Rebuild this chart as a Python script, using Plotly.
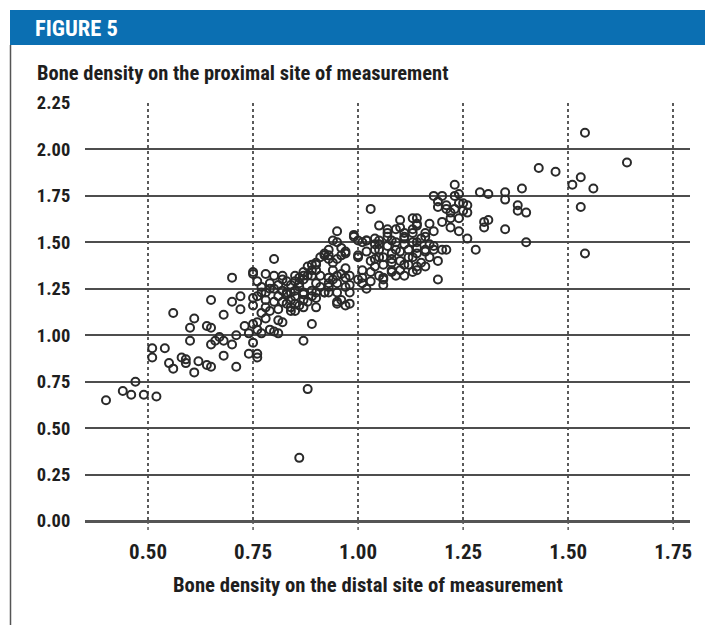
import plotly.graph_objects as go

# Bone density: distal site (x) vs proximal site (y)
distal = [
    0.40, 0.44, 0.46, 0.47, 0.49, 0.52, 0.51, 0.51, 0.54, 0.56,
    0.55, 0.56, 0.58, 0.59, 0.59, 0.62, 0.61, 0.64, 0.65, 0.60,
    0.60, 0.61, 0.64, 0.65, 0.65, 0.65, 0.66, 0.67, 0.68, 0.68,
    0.70, 0.68, 0.70, 0.71, 0.71, 0.70, 0.72, 0.72, 0.73, 0.74,
    0.74, 0.75, 0.76, 0.76, 0.75, 0.75, 0.75, 0.75, 0.75, 0.76,
    0.76, 0.77, 0.78, 0.78, 0.77, 0.76, 0.78, 0.80, 0.78, 0.79,
    0.81, 0.81, 0.80, 0.80, 0.79, 0.82, 0.82, 0.85, 0.87, 0.89,
    0.92, 0.93, 0.94, 0.90, 0.89, 0.87, 0.86, 0.84, 0.82, 0.81,
    0.83, 0.85, 0.87, 0.89, 0.91, 0.93, 0.94, 0.95, 0.92, 0.90,
    0.88, 0.86, 0.84, 0.85, 0.87, 0.90, 0.95, 0.82, 0.80, 0.89,
    0.87, 0.94, 0.83, 0.81, 0.83, 0.84, 0.84, 0.85, 0.82, 0.84,
    0.87, 0.89, 0.87, 0.86, 0.85, 0.86, 0.88, 0.89, 0.90, 0.91,
    0.93, 0.95, 0.96, 0.91, 0.93, 0.94, 0.96, 0.97, 0.97, 0.95,
    0.93, 0.92, 0.90, 0.90, 0.93, 0.95, 0.96, 0.95, 0.98, 0.98,
    0.97, 1.00, 1.00, 1.01, 1.03, 0.95, 0.95, 0.99, 1.01, 1.02,
    1.04, 1.05, 1.07, 1.10, 1.14, 1.14, 1.10, 1.13, 1.16, 1.18,
    1.18, 1.19, 1.00, 0.97, 0.92, 0.90, 0.88, 0.87, 0.97, 1.02,
    1.06, 1.09, 1.06, 1.01, 1.03, 1.05, 1.07, 1.09, 1.11, 1.12,
    1.14, 1.16, 1.17, 1.14, 1.11, 1.08, 1.10, 1.08, 1.13, 1.04,
    1.04, 1.02, 1.05, 1.08, 1.07, 1.11, 1.14, 1.07, 1.09, 1.11,
    1.13, 1.15, 1.18, 1.13, 1.11, 1.09, 1.05, 1.04, 1.02, 1.00,
    0.99, 0.97, 1.05, 1.06, 1.08, 1.10, 1.12, 1.13, 1.14, 1.16,
    1.17, 1.04, 1.06, 1.08, 1.10, 1.12, 1.15, 1.16, 1.03, 1.05,
    1.08, 1.11, 1.14, 0.98, 1.06, 1.03, 1.01, 0.98, 1.18, 1.19,
    1.20, 1.21, 1.23, 1.24, 1.24, 1.25, 1.25, 1.26, 1.22, 1.22,
    1.24, 1.20, 1.22, 1.24, 1.26, 1.20, 1.21, 1.28, 1.30, 1.30,
    1.29, 1.31, 1.23, 1.43, 1.35, 1.39, 1.35, 1.38, 1.38, 1.40,
    1.35, 1.40, 1.31, 1.47, 1.54, 1.64, 1.53, 1.51, 1.56, 1.53,
    1.54, 1.13, 1.14, 1.86, 0.86, 0.88, 1.21, 1.19, 1.23, 1.26,
    1.17, 1.16, 1.19, 0.96, 0.93, 0.77, 0.79, 0.76, 0.78, 0.80,
    0.81, 0.79, 0.83, 0.85, 0.77,
]
proximal = [
    0.65, 0.70, 0.68, 0.75, 0.68, 0.67, 0.93, 0.88, 0.93, 1.12,
    0.85, 0.82, 0.88, 0.87, 0.85, 0.86, 0.80, 0.84, 0.83, 0.97,
    1.04, 1.09, 1.05, 1.04, 0.95, 1.19, 0.97, 0.99, 0.97, 0.89,
    0.95, 1.11, 1.18, 1.00, 0.83, 1.31, 1.21, 1.14, 1.05, 1.01,
    0.90, 0.96, 0.90, 0.88, 1.34, 1.33, 1.20, 1.16, 1.06, 1.07,
    1.03, 1.01, 1.33, 1.23, 1.23, 1.21, 1.19, 1.18, 1.09, 1.03,
    1.01, 1.08, 1.41, 1.32, 1.28, 1.30, 1.32, 1.32, 1.34, 1.38,
    1.43, 1.41, 1.39, 1.35, 1.32, 1.30, 1.28, 1.27, 1.24, 1.21,
    1.22, 1.21, 1.22, 1.24, 1.26, 1.28, 1.30, 1.32, 1.23, 1.20,
    1.18, 1.16, 1.15, 1.13, 1.15, 1.15, 1.18, 1.07, 1.02, 1.06,
    0.97, 1.51, 1.29, 1.27, 1.23, 1.23, 1.19, 1.17, 1.18, 1.13,
    1.19, 1.21, 1.23, 1.26, 1.29, 1.31, 1.32, 1.35, 1.38, 1.42,
    1.43, 1.41, 1.43, 1.32, 1.31, 1.35, 1.33, 1.36, 1.31, 1.28,
    1.26, 1.23, 1.23, 1.28, 1.23, 1.23, 1.19, 1.17, 1.17, 1.23,
    1.26, 1.42, 1.30, 1.35, 1.68, 1.56, 1.50, 1.54, 1.50, 1.51,
    1.52, 1.59, 1.57, 1.62, 1.63, 1.59, 1.58, 1.57, 1.53, 1.56,
    1.46, 1.30, 1.43, 1.44, 1.44, 1.39, 1.37, 1.32, 1.16, 1.25,
    1.27, 1.32, 1.31, 1.31, 1.40, 1.42, 1.48, 1.46, 1.49, 1.42,
    1.47, 1.46, 1.49, 1.37, 1.38, 1.41, 1.35, 1.35, 1.34, 1.37,
    1.46, 1.45, 1.49, 1.51, 1.53, 1.53, 1.50, 1.55, 1.57, 1.55,
    1.55, 1.52, 1.48, 1.50, 1.52, 1.50, 1.51, 1.49, 1.51, 1.51,
    1.53, 1.45, 1.46, 1.42, 1.44, 1.45, 1.46, 1.42, 1.44, 1.45,
    1.42, 1.41, 1.38, 1.39, 1.40, 1.38, 1.39, 1.37, 1.34, 1.32,
    1.34, 1.32, 1.35, 1.32, 1.30, 1.29, 1.28, 1.27, 1.75, 1.72,
    1.75, 1.70, 1.75, 1.76, 1.71, 1.71, 1.67, 1.66, 1.66, 1.63,
    1.63, 1.61, 1.58, 1.56, 1.52, 1.46, 1.46, 1.46, 1.58, 1.61,
    1.77, 1.76, 1.81, 1.90, 1.77, 1.79, 1.73, 1.70, 1.67, 1.66,
    1.57, 1.50, 1.62, 1.88, 2.09, 1.93, 1.85, 1.81, 1.79, 1.69,
    1.44, 1.63, 1.60, 1.67, 0.34, 0.71, 1.68, 1.69, 1.68, 1.70,
    1.60, 1.55, 1.40, 1.47, 1.46, 1.26, 1.25, 1.29, 1.15, 1.25,
    1.14, 1.13, 1.17, 1.24, 1.12,
]

x_tick_values = [0.50, 0.75, 1.00, 1.25, 1.50, 1.75]
x_tick_labels = ["0.50", "0.75", "1.00", "1.25", "1.50", "1.75"]
y_tick_values = [0.00, 0.25, 0.50, 0.75, 1.00, 1.25, 1.50, 1.75, 2.00, 2.25]
y_tick_labels = ["0.00", "0.25", "0.50", "0.75", "1.00", "1.25", "1.50", "1.75", "2.00", "2.25"]

FONT = "Roboto Condensed, Liberation Sans Narrow, Arial Narrow, Roboto, sans-serif"
INK = "#1e1e1e"
MARK = "#2a2a2a"

fig = go.Figure(
    go.Scatter(
        x=distal,
        y=proximal,
        mode="markers",
        marker=dict(symbol="circle-open", size=8, color=MARK, line=dict(width=2, color=MARK)),
        hoverinfo="x+y",
        showlegend=False,
    )
)

W, H = 705, 625
L, R, T, B = 85, 15, 103, 104
pw, ph = W - L - R, H - T - B


def px_x(p):
    return (p - L) / pw


def px_y(p):
    return 1 - (p - T) / ph


# short dotted extensions of the vertical grid below the zero line
grid_tails = [
    dict(type="line", xref="x", yref="paper", x0=v, x1=v, y0=0, y1=px_y(530),
         line=dict(color="#5a5a5a", width=1.5, dash="dot"))
    for v in x_tick_values
]

fig.update_layout(
    width=W,
    height=H,
    autosize=False,
    margin=dict(l=L, r=R, t=T, b=B, pad=0),
    paper_bgcolor="white",
    plot_bgcolor="white",
    font=dict(family=FONT, color=INK),
    xaxis=dict(
        range=[0.35, 1.79],
        tickmode="array",
        tickvals=x_tick_values,
        ticktext=x_tick_labels,
        showgrid=True,
        gridcolor="#5a5a5a",
        griddash="dot",
        gridwidth=1.5,
        zeroline=False,
        showline=False,
        ticks="outside",
        ticklen=12,
        tickcolor="rgba(0,0,0,0)",
        tickfont=dict(family=FONT, size=21, color=INK, weight="bold"),
        fixedrange=True,
    ),
    yaxis=dict(
        range=[0, 2.25],
        tickmode="array",
        tickvals=y_tick_values,
        ticktext=y_tick_labels,
        showgrid=True,
        gridcolor="#4d4d4d",
        gridwidth=1.5,
        zeroline=True,
        zerolinecolor="#555555",
        zerolinewidth=2.5,
        showline=False,
        ticks="outside",
        ticklen=10,
        tickcolor="rgba(0,0,0,0)",
        tickfont=dict(family=FONT, size=18.5, color=INK, weight="bold"),
        fixedrange=True,
    ),
    shapes=[
        dict(type="rect", xref="paper", yref="paper",
             x0=px_x(10), x1=px_x(W + 2), y0=px_y(45), y1=px_y(10),
             fillcolor="#0b6fb2", line=dict(width=0), layer="above"),
        dict(type="line", xref="paper", yref="paper",
             x0=px_x(10.5), x1=px_x(10.5), y0=px_y(45), y1=px_y(H + 2),
             line=dict(color="#555555", width=1.5)),
    ] + grid_tails,
    annotations=[
        dict(text="FIGURE 5", xref="paper", yref="paper",
             x=px_x(33), y=px_y(28), xanchor="left", yanchor="middle",
             showarrow=False, font=dict(family=FONT, size=22.5, color="white", weight="bold")),
        dict(text="Bone density on the proximal site of measurement", xref="paper", yref="paper",
             x=px_x(35), y=px_y(73), xanchor="left", yanchor="middle",
             showarrow=False, font=dict(family=FONT, size=20.5, color=INK, weight="bold")),
        dict(text="Bone density on the distal site of measurement", xref="paper", yref="paper",
             x=px_x(368), y=px_y(585), xanchor="center", yanchor="middle",
             showarrow=False, font=dict(family=FONT, size=20.7, color=INK, weight="bold")),
    ],
)

fig.write_html(
    "out.html",
    config={"displayModeBar": False},
    post_script="document.body.style.margin='0px';document.body.style.overflow='hidden';",
)
